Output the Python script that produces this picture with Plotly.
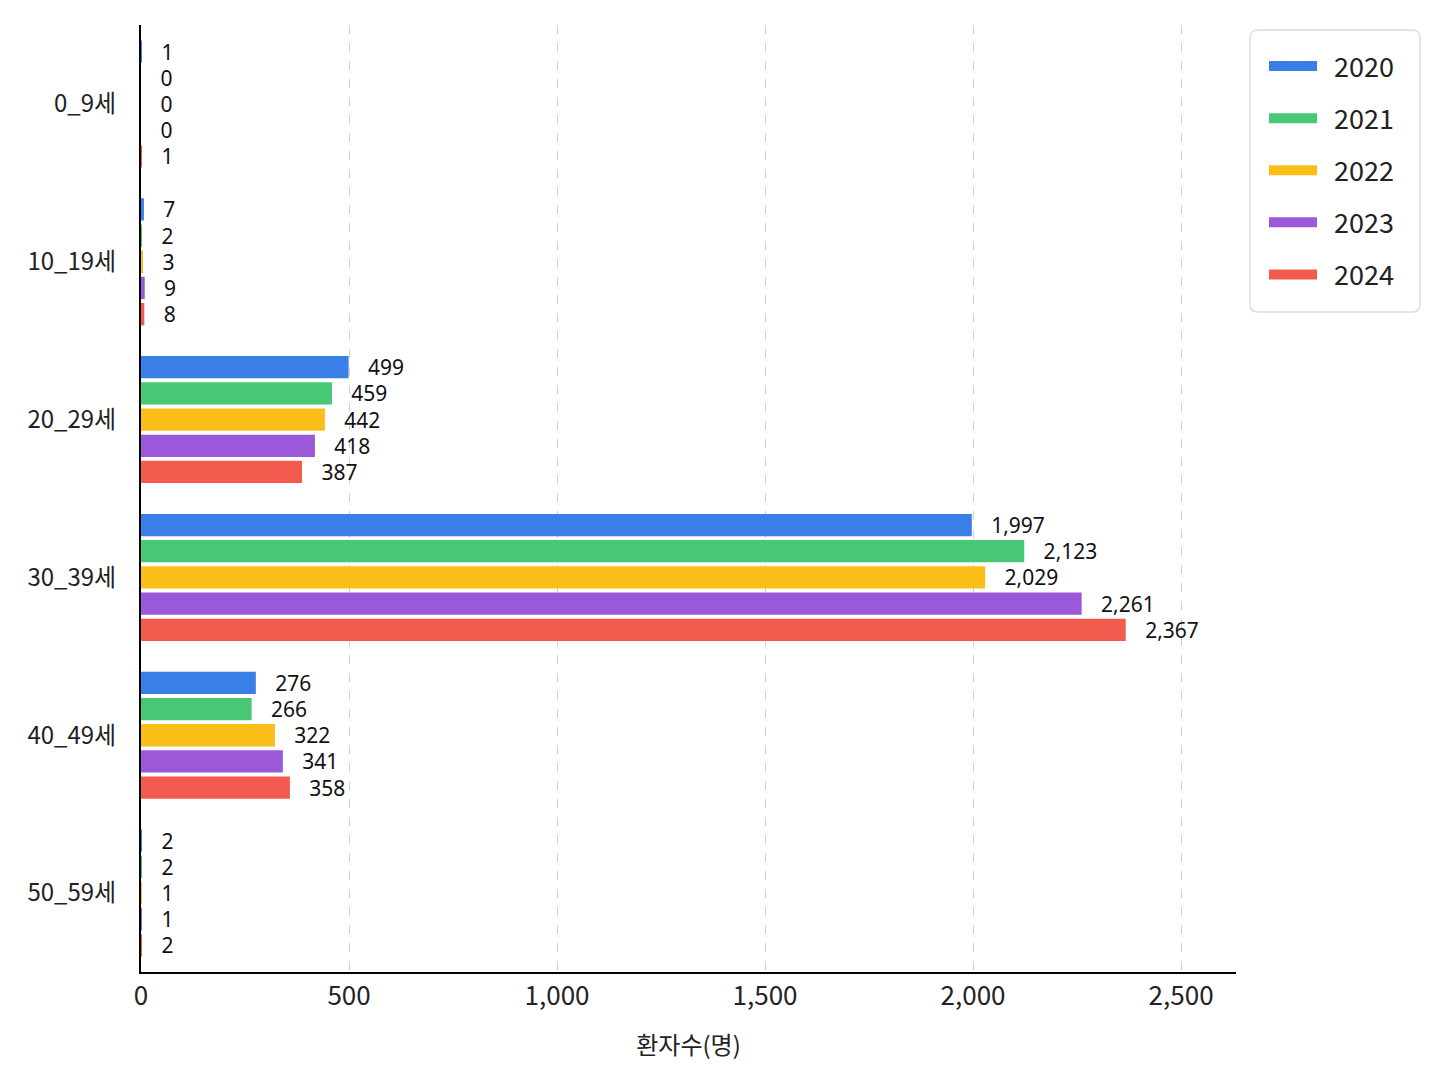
import plotly.graph_objects as go

# age groups and patient counts per year
ages = ["0_9세", "10_19세", "20_29세", "30_39세", "40_49세", "50_59세"]
years = ["2020", "2021", "2022", "2023", "2024"]
v2020 = [1, 7, 499, 1997, 276, 2]
v2021 = [0, 2, 459, 2123, 266, 2]
v2022 = [0, 3, 442, 2029, 322, 1]
v2023 = [0, 9, 418, 2261, 341, 1]
v2024 = [1, 8, 387, 2367, 358, 2]
tick_vals = [0, 500, 1000, 1500, 2000, 2500]

series = [v2020, v2021, v2022, v2023, v2024]
colors = ["#3A7EE8", "#48C774", "#F9BE17", "#9B59D9", "#F45B4F"]

FONT = "Noto Sans CJK KR"

# figure geometry (pixels); the page adds an 8px body margin
W, H = 1432, 1070
ML, MR, MT, MB = 133, 204, 17, 106
PW = W - ML - MR
PH = H - MT - MB


def px_x(p):
    return (p - 8 - ML) / PW


def px_y(p):
    return (H - MB + 8 - p) / PH


fig = go.Figure()
for yr, vals, col in zip(years, series, colors):
    fig.add_trace(go.Bar(
        y=ages, x=vals, name=yr, orientation="h", showlegend=False,
        marker=dict(color=col, line=dict(width=0)),
        texttemplate="\u00a0\u00a0\u00a0%{x:,}", textposition="outside",
        textfont=dict(size=21, color="#111111", family="Noto Sans"),
        constraintext="none", cliponaxis=False,
    ))
    # legend entry drawn as a thick line swatch
    fig.add_trace(go.Scatter(
        x=[None], y=[None], name="\u00a0\u00a0" + yr, mode="lines", legendgroup=yr,
        line=dict(color=col, width=18),
    ))

# rounded legend frame
x0, x1, y0, y1, r = 1250, 1420, 30, 312, 8
frame = (
    f"M{px_x(x0 + r)},{px_y(y0)} L{px_x(x1 - r)},{px_y(y0)} "
    f"Q{px_x(x1)},{px_y(y0)} {px_x(x1)},{px_y(y0 + r)} "
    f"L{px_x(x1)},{px_y(y1 - r)} Q{px_x(x1)},{px_y(y1)} {px_x(x1 - r)},{px_y(y1)} "
    f"L{px_x(x0 + r)},{px_y(y1)} Q{px_x(x0)},{px_y(y1)} {px_x(x0)},{px_y(y1 - r)} "
    f"L{px_x(x0)},{px_y(y0 + r)} Q{px_x(x0)},{px_y(y0)} {px_x(x0 + r)},{px_y(y0)} Z"
)
fig.add_shape(type="path", path=frame, xref="paper", yref="paper",
              line=dict(color="#DDDDDD", width=1.5), fillcolor="rgba(0,0,0,0)", layer="below")

fig.update_layout(
    width=W, height=H,
    barmode="group", bargap=0.17, bargroupgap=0.15,
    plot_bgcolor="white", paper_bgcolor="white",
    font=dict(family=FONT, color="#222222"),
    margin=dict(l=ML, r=MR, t=MT, b=MB, autoexpand=False),
    legend=dict(
        x=px_x(1264), y=px_y(42), xanchor="left", yanchor="top",
        borderwidth=0, bgcolor="rgba(0,0,0,0)",
        font=dict(size=27, family=FONT, color="#222222"),
        itemwidth=48, tracegroupgap=14,
    ),
)

fig.update_xaxes(
    range=[0, 2632], tickvals=tick_vals, tickformat=",d",
    showgrid=True, gridcolor="#D0D0D0", griddash="dash", gridwidth=1,
    showline=True, linecolor="black", linewidth=2, zeroline=False,
    tickfont=dict(size=26, family=FONT, color="#222222"),
    title=dict(text="환자수(명)", font=dict(size=24, family=FONT, color="#222222"), standoff=26),
)
fig.update_yaxes(
    autorange="reversed", showgrid=False,
    showline=True, linecolor="black", linewidth=2,
    tickfont=dict(size=24, family=FONT, color="#222222"),
    ticklabelstandoff=18,
)

fig.write_html("out.html")
